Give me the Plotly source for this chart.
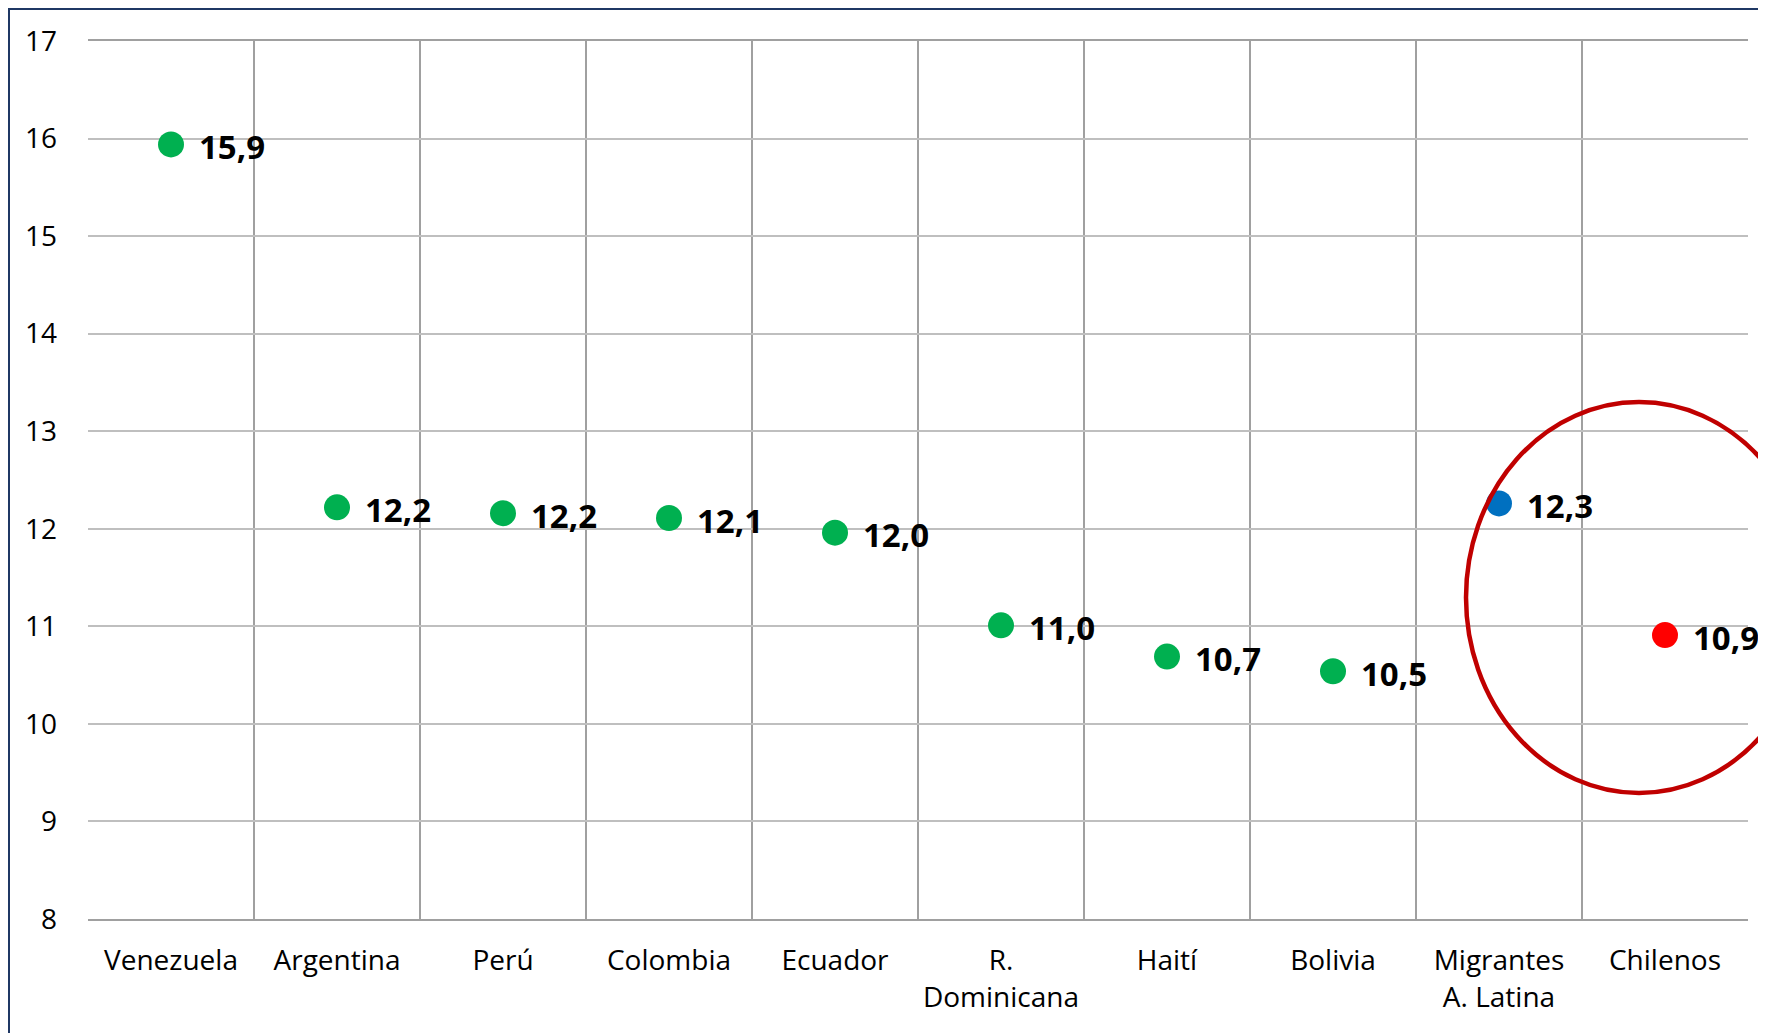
import plotly.graph_objects as go

categories = ["Venezuela", "Argentina", "Perú", "Colombia", "Ecuador",
              "R.<br>Dominicana", "Haití", "Bolivia", "Migrantes<br>A. Latina", "Chilenos"]
values = [15.94, 12.22, 12.16, 12.11, 11.96, 11.01, 10.69, 10.54, 12.26, 10.91]
colors = ["#00B050"] * 8 + ["#0070C0", "#FF0000"]
y_ticks = [8, 9, 10, 11, 12, 13, 14, 15, 16, 17]

OFF = 8  # page body margin
W, H = 1766 - OFF, 1033 - OFF
L, R, T, B = 80, 18, 33, 114

fig = go.Figure()
fig.add_trace(go.Scatter(
    x=categories, y=values, mode="markers",
    marker=dict(size=26, color=colors, line=dict(width=0)),
    showlegend=False, hoverinfo="skip", cliponaxis=False,
))

for c, v in zip(categories, values):
    fig.add_annotation(
        x=c, y=v, xref="x", yref="y", text=f"{v:.1f}".replace(".", ","),
        showarrow=False, xanchor="left", yanchor="middle", xshift=26, yshift=-2,
        font=dict(family="Open Sans", size=33, color="#000000", weight="bold"),
    )

pw = W - L - R
ph = H - T - B

def px_x(p):
    return (p - OFF - L) / pw

def px_y(p):
    return (H - B - (p - OFF)) / ph

# red highlight ellipse
fig.add_shape(type="circle", xref="paper", yref="paper",
              x0=px_x(1466), x1=px_x(1812), y0=px_y(793), y1=px_y(402),
              line=dict(color="#C00000", width=4.5), layer="above")
# outer frame
fig.add_shape(type="rect", xref="paper", yref="paper",
              x0=px_x(9), x1=px_x(1800), y0=px_y(1100), y1=px_y(9),
              line=dict(color="#1F3864", width=2), layer="below")

fig.update_layout(
    width=W, height=H,
    margin=dict(l=L, r=R, t=T, b=B, autoexpand=False),
    paper_bgcolor="white", plot_bgcolor="white",
    font=dict(family="Open Sans", size=28, color="#000000"),
    xaxis=dict(
        type="category", tickson="boundaries", showgrid=True,
        gridcolor="#A0A0A0", gridwidth=1.5, automargin=False,
        showline=True, linecolor="#A0A0A0", linewidth=1.5, mirror=True,
        ticks="", ticklabelstandoff=16,
        tickfont=dict(family="Open Sans", size=28, color="#000000"),
        range=[-0.5, len(categories) - 0.5],
    ),
    yaxis=dict(
        range=[8, 17], tickvals=y_ticks, ticktext=[str(t) for t in y_ticks],
        showgrid=True, gridcolor="#BFBFBF", gridwidth=1.5, automargin=False,
        zeroline=False, showline=False, ticks="", ticklabelstandoff=30,
        tickfont=dict(family="Open Sans", size=28, color="#000000"),
    ),
)

fig.write_html("out.html")
